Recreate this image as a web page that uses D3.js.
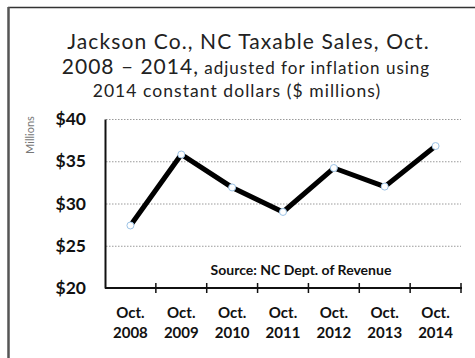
<!DOCTYPE html>
<html>
<head>
<meta charset="utf-8">
<script src="https://cdn.jsdelivr.net/npm/d3@7"></script>
<style>
  html, body { margin: 0; padding: 0; background: #fff; }
  svg { display: block; font-family: Lato, "Open Sans", sans-serif; }
</style>
</head>
<body>
<svg id="chart" width="475" height="358"></svg>
<script>
// Jackson County taxable sales, October of each year, in 2014 dollars ($ millions)
const categories = ["2008", "2009", "2010", "2011", "2012", "2013", "2014"];
const sales = [27.4, 35.8, 31.9, 29.0, 34.2, 32.0, 36.8];
const yTicks = [20, 25, 30, 35, 40];

const svg = d3.select("#chart");
const W = 475, H = 358;
const plot = { left: 105, right: 461, top: 119, bottom: 288 };

// outer frame (top and left edges visible)
svg.append("line").attr("x1", 8).attr("x2", W).attr("y1", 7.5).attr("y2", 7.5)
  .attr("stroke", "#333").attr("stroke-width", 1.5);
svg.append("line").attr("x1", 8.5).attr("x2", 8.5).attr("y1", 7).attr("y2", H)
  .attr("stroke", "#555").attr("stroke-width", 2.5);

// title
const title = svg.append("g").attr("fill", "#222").attr("text-anchor", "middle");
title.append("text").attr("x", 248.5).attr("y", 49).attr("font-size", 21)
  .attr("letter-spacing", 1.1)
  .text("Jackson Co., NC Taxable Sales, Oct.");
const t2 = title.append("text").attr("x", 246).attr("y", 74).attr("letter-spacing", 1);
t2.append("tspan").attr("font-size", 21).text("2008 \u2013 2014,");
t2.append("tspan").attr("font-size", 17).text(" adjusted for inflation using");
title.append("text").attr("x", 237).attr("y", 97).attr("font-size", 17.5)
  .attr("letter-spacing", 1.05)
  .text("2014 constant dollars ($ millions)");

const x = d3.scaleBand().domain(categories).range([plot.left, plot.right]);
const y = d3.scaleLinear().domain([20, 40]).range([plot.bottom, plot.top]);

// dotted gridlines
svg.append("g").selectAll("line").data(yTicks.filter(d => d > 20)).join("line")
  .attr("x1", plot.left + 1).attr("x2", plot.right)
  .attr("y1", d => y(d) + 0.5).attr("y2", d => y(d) + 0.5)
  .attr("stroke", "#9a9a9a").attr("stroke-width", 1).attr("stroke-dasharray", "1.5,1.5");

// y axis
const yAxis = svg.append("g").attr("transform", `translate(${plot.left},0)`)
  .call(d3.axisLeft(y).tickValues(yTicks).tickSize(0).tickPadding(19).tickFormat(d => "$" + d));
yAxis.select(".domain").attr("stroke", "#111").attr("stroke-width", 2);
yAxis.selectAll("text").attr("font-size", 17.5).attr("font-weight", "bold")
  .attr("fill", "#111").attr("font-family", "Lato, sans-serif");

// x axis with ticks at band boundaries
const xAxisG = svg.append("g").attr("transform", `translate(0,${plot.bottom})`);
xAxisG.append("line").attr("x1", plot.left).attr("x2", plot.right + 1)
  .attr("stroke", "#111").attr("stroke-width", 2);
const bounds = categories.map(c => x(c)).concat([x(categories[categories.length - 1]) + x.bandwidth()]);
xAxisG.selectAll("line.tick").data(bounds.slice(1)).join("line").attr("class", "tick")
  .attr("x1", d => d).attr("x2", d => d).attr("y1", -5).attr("y2", 5)
  .attr("stroke", "#111").attr("stroke-width", 1.5);
const xl = xAxisG.selectAll("text").data(categories).join("text")
  .attr("text-anchor", "middle").attr("font-size", 15).attr("font-weight", "bold").attr("fill", "#111")
  .attr("x", d => x(d) + x.bandwidth() / 2);
xl.append("tspan").attr("x", d => x(d) + x.bandwidth() / 2).attr("y", 30).text("Oct.");
xl.append("tspan").attr("x", d => x(d) + x.bandwidth() / 2).attr("y", 50).text(d => d);

// "Millions" unit label
svg.append("text").attr("transform", "translate(34,135) rotate(-90)")
  .attr("text-anchor", "middle").attr("font-size", 11).attr("fill", "#777").text("Millions");

// source note
svg.append("text").attr("x", 301).attr("y", 275).attr("text-anchor", "middle")
  .attr("font-size", 14).attr("font-weight", "bold").attr("fill", "#111")
  .text("Source: NC Dept. of Revenue");

// series line and markers
const pts = categories.map((c, i) => [x(c) + x.bandwidth() / 2, y(sales[i])]);
svg.append("path").datum(pts).attr("d", d3.line())
  .attr("fill", "none").attr("stroke", "#000").attr("stroke-width", 5).attr("stroke-linejoin", "miter");
svg.append("g").selectAll("circle").data(pts).join("circle")
  .attr("cx", d => d[0]).attr("cy", d => d[1]).attr("r", 3.5)
  .attr("fill", "#fff").attr("stroke", "#9cc3e6").attr("stroke-width", 1);
</script>
</body>
</html>
